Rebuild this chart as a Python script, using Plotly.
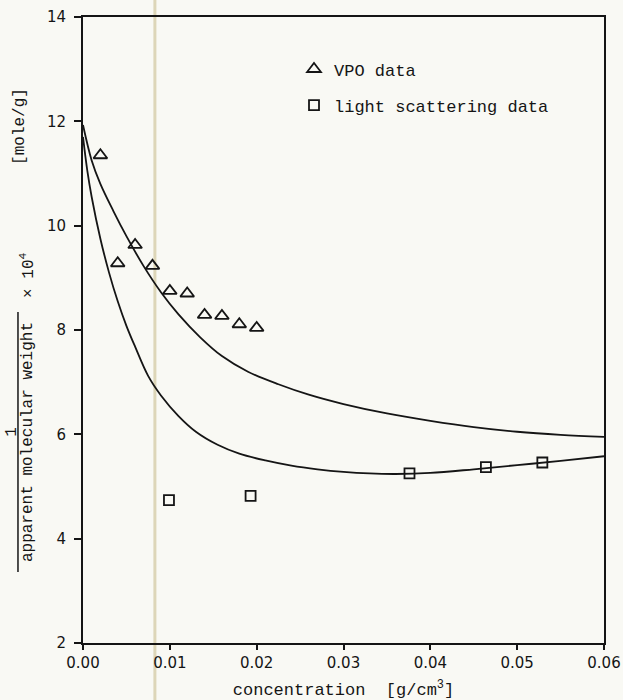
import plotly.graph_objects as go

# VPO data (triangles)
vpo_x = [0.002, 0.004, 0.006, 0.008, 0.010, 0.012, 0.014, 0.016, 0.018, 0.020]
vpo_y = [11.35, 9.28, 9.63, 9.23, 8.75, 8.70, 8.29, 8.27, 8.11, 8.04]

# light scattering data (squares)
ls_x = [0.0099, 0.0193, 0.0376, 0.0464, 0.0529]
ls_y = [4.74, 4.82, 5.25, 5.37, 5.46]

# upper curve
up_x = [0.0, 0.001, 0.002, 0.0035, 0.005, 0.007, 0.009, 0.011, 0.0135, 0.016,
        0.019, 0.0225, 0.026, 0.030, 0.035, 0.040, 0.045, 0.050, 0.055, 0.060]
up_y = [11.93, 11.25, 10.80, 10.28, 9.80, 9.22, 8.72, 8.30, 7.86, 7.50,
        7.20, 6.96, 6.76, 6.58, 6.40, 6.26, 6.14, 6.05, 5.99, 5.95]

# lower curve
lo_x = [0.0, 0.0005, 0.001, 0.002, 0.003, 0.004, 0.005, 0.006, 0.0075, 0.009,
        0.011, 0.013, 0.0155, 0.018, 0.021, 0.024, 0.027, 0.030, 0.033, 0.036,
        0.040, 0.045, 0.050, 0.055, 0.060]
lo_y = [11.70, 11.05, 10.55, 9.75, 9.10, 8.55, 8.08, 7.68, 7.12, 6.74,
        6.35, 6.05, 5.80, 5.63, 5.50, 5.40, 5.33, 5.28, 5.25, 5.24,
        5.26, 5.33, 5.41, 5.49, 5.58]

x_ticks = [0.00, 0.01, 0.02, 0.03, 0.04, 0.05, 0.06]
y_ticks = [2, 4, 6, 8, 10, 12, 14]

MONO = "Liberation Mono, Courier New, monospace"
SANS = "DejaVu Sans, Verdana, sans-serif"
INK = "#151515"

fig = go.Figure()
fig.add_trace(go.Scatter(x=up_x, y=up_y, mode="lines", line=dict(color=INK, width=1.8, shape="spline", smoothing=1.0),
                         showlegend=False, hoverinfo="skip"))
fig.add_trace(go.Scatter(x=lo_x, y=lo_y, mode="lines", line=dict(color=INK, width=1.8, shape="spline", smoothing=1.0),
                         showlegend=False, hoverinfo="skip"))
fig.add_trace(go.Scatter(x=vpo_x, y=vpo_y, mode="markers", name="VPO data", legendgroup="a",
                         marker=dict(symbol="triangle-up-open", size=12, color=INK, line=dict(width=1.8, color=INK))))
fig.add_trace(go.Scatter(x=ls_x, y=ls_y, mode="markers", name="light scattering data", legendgroup="b",
                         marker=dict(symbol="square-open", size=10, color=INK, line=dict(width=1.8, color=INK))))

axis_common = dict(showline=True, linecolor=INK, linewidth=2, mirror=True, showgrid=False, zeroline=False,
                   automargin=False, ticks="outside", tickcolor=INK, tickwidth=1.5,
                   tickfont=dict(family=SANS, size=15, color=INK))

fig.update_xaxes(range=[0, 0.06], tickvals=x_ticks, tickformat=".2f", ticklen=5,
                 title=dict(text="concentration  [g/cm<sup>3</sup>]", font=dict(family=MONO, size=17, color=INK), standoff=14),
                 **axis_common)
fig.update_yaxes(range=[2, 14], tickvals=y_ticks, ticklen=7, ticklabelstandoff=5, **axis_common)

ann_font = dict(family=MONO, size=16, color=INK)
fig.add_annotation(text="apparent molecular weight", xref="paper", yref="paper", x=-0.1056, y=0.321,
                   textangle=-90, showarrow=False, font=ann_font, xanchor="center", yanchor="middle")
fig.add_annotation(text="× 10<sup>4</sup>", xref="paper", yref="paper", x=-0.1056, y=0.588,
                   textangle=-90, showarrow=False, font=ann_font, xanchor="center", yanchor="middle")
fig.add_annotation(text="1", xref="paper", yref="paper", x=-0.137, y=0.337,
                   textangle=-90, showarrow=False, font=ann_font, xanchor="center", yanchor="middle")
fig.add_annotation(text="[mole/g]", xref="paper", yref="paper", x=-0.121, y=0.826,
                   textangle=-90, showarrow=False, font=ann_font, xanchor="center", yanchor="middle")
fig.add_shape(type="line", xref="paper", yref="paper", x0=-0.1248, x1=-0.1248, y0=0.1134, y1=0.5288,
              line=dict(color=INK, width=1.5))
# scanning stripe
fig.add_shape(type="line", xref="paper", yref="paper", x0=0.138, x1=0.138, y0=-0.095, y1=1.03,
              line=dict(color="#ddd6b8", width=3), layer="below")

fig.update_layout(
    width=623, height=700,
    margin=dict(l=83, r=19, t=17, b=57),
    paper_bgcolor="#f9f9f4", plot_bgcolor="#f9f9f4",
    legend=dict(x=0.405, y=0.945, xanchor="left", yanchor="top", bgcolor="rgba(0,0,0,0)",
                font=dict(family=MONO, size=17, color=INK), tracegroupgap=11, itemwidth=30),
)

fig.write_html("out.html")
